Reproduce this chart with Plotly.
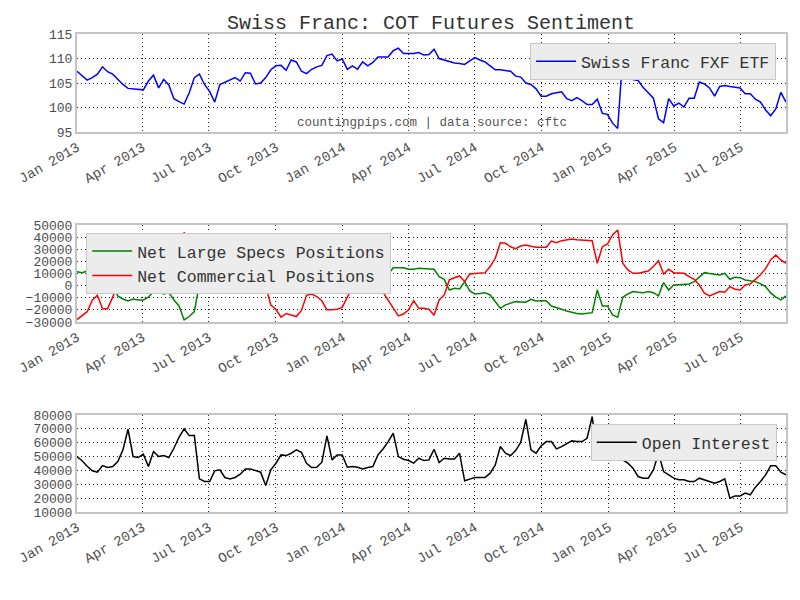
import pandas as pd
import plotly.graph_objects as go
from plotly.subplots import make_subplots

# weekly COT report dates (Tuesdays)
dates = pd.date_range("2013-01-01", periods=140, freq="7D")

fxf_price = [
    107.4, 106.5, 105.6, 106.1, 106.8, 108.3, 107.3, 106.8, 105.7, 104.7,
    103.9, 103.8, 103.7, 103.6, 105.4, 106.6, 104.0, 105.7, 104.6, 101.8,
    101.2, 100.7, 103.0, 106.1, 106.8, 104.7, 103.3, 101.1, 104.7, 105.2,
    105.6, 106.1, 105.4, 107.1, 107.0, 104.8, 105.0, 106.1, 107.7, 108.5,
    108.6, 107.6, 109.7, 109.3, 107.4, 106.9, 107.8, 108.3, 108.6, 110.6,
    110.9, 109.5, 109.9, 107.8, 108.5, 107.8, 109.3, 108.5, 109.2, 110.3,
    110.3, 110.3, 111.6, 112.1, 111.0, 111.0, 111.0, 111.2, 110.7, 110.8,
    111.9, 110.0, 109.7, 109.3, 109.1, 109.0, 108.8, 109.5, 110.2, 109.7,
    109.3, 108.5, 107.7, 107.7, 107.6, 107.4, 106.4, 106.2, 105.0, 104.7,
    103.8, 102.3, 102.3, 102.8, 103.0, 103.2, 101.8, 101.4, 102.0, 101.4,
    100.6, 100.6, 101.7, 98.8, 98.6, 96.8, 95.7, 110.5, 107.4, 105.7,
    105.5, 104.1, 103.0, 101.9, 97.7, 96.9, 101.8, 100.3, 100.9, 100.1,
    101.9, 101.9, 105.2, 104.8, 104.0, 102.3, 104.3, 104.5, 104.3, 104.1,
    104.0, 102.8, 102.8, 101.7, 101.1, 99.5, 98.3, 99.7, 103.1, 101.1,
]

net_large_specs = [
    11500, 10700, 12000, 14000, 15000, 16000, 12000, 2000, -8500, -11000,
    -12600, -11000, -11800, -11800, -9600, -5000, 500, -6900, -5500, -11800,
    -16800, -28300, -25500, -21400, 1500, 1500, -500, -3000, -5000, -5200,
    -2500, -500, -300, 200, 1000, -200, 2000, 5000, 12000, 18000,
    17000, 18000, 20000, 14000, 8000, 8000, 9000, 12000, 16000, 16000,
    15000, 14000, 8000, -2200, -1500, -800, -1500, -2700, -1500, -800,
    3800, 9000, 14800, 14800, 14800, 13500, 13500, 14300, 14000, 13500,
    13500, 7400, 5200, -3600, -2200, -2700, 3300, -4400, -6900, -6500,
    -5800, -7700, -13000, -18700, -15900, -14500, -13200, -13500, -13700, -11300,
    -12600, -12500, -12400, -16800, -17900, -19500, -21000, -22300, -23000, -23400,
    -23000, -22300, -3600, -16800, -16800, -24200, -26100, -9600, -6900, -4900,
    -5500, -5800, -4900, -5800, -8500, 2500, -3600, 500, 800, 1000,
    1400, 3300, 7400, 10700, 10000, 9500, 8800, 10200, 5200, 6900,
    6600, 4700, 4000, 3300, 1500, -800, -6000, -9500, -11800, -8500,
]

net_commercial = [
    -28000, -25000, -21500, -12000, -8000, -19000, -19000, -9500, 2000, 8000,
    12000, 11000, 12000, 12000, 9000, 1000, -1000, 8000, 7000, 14000,
    20000, 44000, 32000, 25000, -3600, -800, 1100, 3000, 5000, 5000,
    3000, 500, -2200, -3600, -4400, -2200, 1900, -500, -16000, -19500,
    -26000, -23000, -24000, -25500, -20500, -8000, -7000, -9000, -12500, -20000,
    -20000, -19500, -18000, -10000, -1000, -300, -500, -800, -2200, -3500,
    -5500, -11800, -18000, -25000, -23400, -20000, -12400, -18700, -18700, -19500,
    -24500, -11800, -7700, 4700, 6500, 8000, 3300, 9600, 10000, 10300,
    10700, 15700, 22500, 35400, 34900, 32000, 30500, 32700, 33500, 32500,
    31600, 31600, 31600, 36800, 35400, 37100, 38000, 38500, 37800, 37500,
    37300, 37100, 18400, 32100, 34300, 41800, 45900, 18400, 12900, 10200,
    10200, 11000, 12100, 15700, 20600, 9600, 13500, 10700, 10200, 10200,
    7400, 5200, 500, -6300, -8500, -6900, -4900, -5500, -800, -3000,
    -3600, 500, 1400, 5200, 9000, 14000, 21200, 25300, 21200, 18400,
]

open_interest = [
    50000, 47000, 43000, 39700, 38700, 43500, 42100, 42800, 46400, 54800,
    69700, 50000, 49300, 51700, 42800, 53600, 50000, 50700, 49300, 56000,
    63900, 70000, 65100, 65100, 33900, 32000, 32000, 39700, 40400, 34900,
    33900, 34900, 37300, 41100, 41100, 39700, 38700, 29100, 40400, 45200,
    51200, 50700, 52400, 54800, 53100, 45200, 42100, 42300, 45900, 64900,
    47600, 51200, 51200, 42300, 42800, 42300, 41100, 42100, 42800, 51200,
    55500, 60800, 66800, 50000, 48100, 47100, 45200, 48800, 47100, 47600,
    55300, 45700, 48800, 48300, 48300, 52400, 32500, 33700, 34900, 34900,
    34900, 38000, 44000, 57200, 52400, 50700, 54300, 60300, 76900, 54800,
    52400, 57700, 60800, 60800, 55500, 57200, 59100, 61300, 60800, 60800,
    63200, 78800, 52400, 56000, 57000, 58000, 56000, 47600, 45200, 41600,
    35600, 34400, 34400, 40400, 52400, 39200, 36800, 34400, 33200, 33200,
    32000, 32000, 34400, 33200, 32000, 30800, 32000, 33900, 20000, 21600,
    21600, 23600, 22400, 27900, 32000, 36800, 43300, 43300, 38700, 36800,
]

FONT = "Liberation Mono, Courier New, monospace"
TXT = "#4d4d4d"

fig = make_subplots(rows=3, cols=1)

fig.add_trace(
    go.Scatter(x=dates, y=fxf_price, name="Swiss Franc FXF ETF", mode="lines",
               line=dict(color="#0000ff", width=1.5), legend="legend", showlegend=True),
    row=1, col=1,
)
fig.add_trace(
    go.Scatter(x=dates, y=net_large_specs, name="Net Large Specs Positions", mode="lines",
               line=dict(color="#008000", width=1.5), legend="legend2", showlegend=True),
    row=2, col=1,
)
fig.add_trace(
    go.Scatter(x=dates, y=net_commercial, name="Net Commercial Positions", mode="lines",
               line=dict(color="#ff0000", width=1.5), legend="legend2", showlegend=True),
    row=2, col=1,
)
fig.add_trace(
    go.Scatter(x=dates, y=open_interest, name="Open Interest", mode="lines",
               line=dict(color="#000000", width=1.5), legend="legend3", showlegend=True),
    row=3, col=1,
)

axis_style = dict(
    showline=True, mirror=True, linecolor="#c4c4c4", linewidth=2,
    showgrid=True, gridcolor="#222222", griddash="1px,3px", gridwidth=1,
    zeroline=False, ticks="", automargin=False,
    tickfont=dict(family=FONT, size=13, color=TXT),
)

domains = [[0.795, 1.0], [0.3975, 0.6004], [0.0, 0.203]]
yranges = [[95, 115], [-30000, 50000], [10000, 80000]]
ydticks = [5, 10000, 10000]
for i in range(3):
    fig.update_xaxes(
        axis_style, row=i + 1, col=1,
        range=["2013-01-01", "2015-09-01"],
        tick0="2013-01-01", dtick="M3", tickformat="%b %Y", tickangle=-30,
        tickfont=dict(family=FONT, size=14, color=TXT),
        domain=[0, 1],
    )
    fig.update_yaxes(
        axis_style, row=i + 1, col=1,
        range=yranges[i], dtick=ydticks[i], domain=domains[i], tickformat="d",
    )

legend_style = dict(
    bgcolor="#ececec", bordercolor="#c8c8c8", borderwidth=1,
    font=dict(family=FONT, size=16.5, color="#333333"),
    tracegroupgap=0, itemwidth=40,
)

# the page body has an 8px margin, so the figure is 16px smaller than the window
fig.update_layout(
    width=784,
    height=584,
    showlegend=True,
    paper_bgcolor="white",
    plot_bgcolor="white",
    margin=dict(l=69, r=6, t=26, b=80),
    title=dict(
        text="Swiss Franc: COT Futures Sentiment",
        x=0.5395, xanchor="center", y=0.976, yanchor="middle",
        font=dict(family=FONT, size=20, color="#333333"),
    ),
    legend=dict(legend_style, x=0.986, xanchor="right", y=0.981, yanchor="top"),
    legend2=dict(legend_style, x=0.013, xanchor="left", y=0.584, yanchor="top"),
    legend3=dict(legend_style, x=0.987, xanchor="right", y=0.184, yanchor="top"),
    annotations=[
        dict(
            text="countingpips.com | data source: cftc",
            xref="x domain", yref="y domain", x=0.5, y=0.0,
            xanchor="center", yanchor="bottom", showarrow=False,
            font=dict(family=FONT, size=12.5, color="#555555"),
        )
    ],
)

fig.write_html("out.html")
